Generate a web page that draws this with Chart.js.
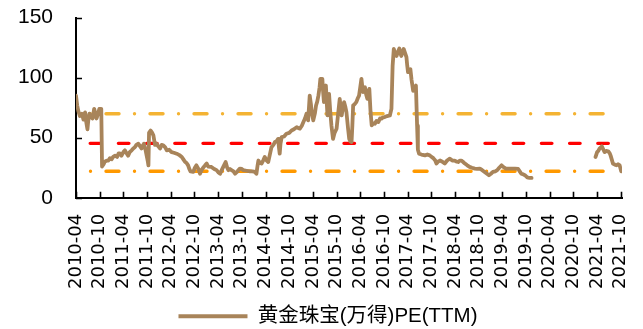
<!DOCTYPE html>
<html>
<head>
<meta charset="utf-8">
<script src="https://cdn.jsdelivr.net/npm/chart.js@4/dist/chart.umd.min.js"></script>
<style>
  html, body { margin: 0; padding: 0; background: #ffffff; }
  #wrap { width: 643px; height: 329px; }
</style>
</head>
<body>
<div id="wrap"><canvas id="c" width="643" height="329"></canvas></div>
<script>
// Axis labels, one every six months starting April 2010
const tickLabels = [
  '2010-04', '2010-10', '2011-04', '2011-10', '2012-04', '2012-10',
  '2013-04', '2013-10', '2014-04', '2014-10', '2015-04', '2015-10',
  '2016-04', '2016-10', '2017-04', '2017-10', '2018-04', '2018-10',
  '2019-04', '2019-10', '2020-04', '2020-10', '2021-04', '2021-10'
];

const seriesName = '黄金珠宝(万得)PE(TTM)';

// Observation time, in months since 2010-04-01
const months = [
  0, 0.3, 0.6, 1.0, 1.5, 1.9, 2.3, 2.6, 2.9, 3.1, 3.4, 3.8, 4.2, 4.6, 5.0, 5.2, 5.6, 5.9, 6.4,
  6.6, 7.0, 7.3, 7.8, 8.2, 8.6, 9.0, 9.4, 9.9, 10.4, 10.8, 11.1, 11.5, 12.0, 12.4, 12.8, 13.2,
  13.6, 14.1, 14.5, 14.9, 15.3, 15.8, 16.2, 16.6, 17.0, 17.2, 17.6, 17.9, 18.2, 18.35, 18.5,
  18.9, 19.3, 19.6, 20.0, 20.4, 20.8, 21.3, 21.7, 22.1, 22.6, 23.0, 23.6, 24.2, 24.8, 25.5,
  26.2, 26.8, 27.2, 27.6, 28.0, 28.4, 28.7, 29.0, 29.7, 30.1, 30.5, 31.0, 31.4, 31.8, 32.2,
  32.7, 33.1, 33.5, 34.3, 35.0, 35.6, 36.1, 36.5, 36.9, 37.3, 37.9, 38.3, 38.6, 39.0, 39.4,
  39.9, 40.3, 40.9, 41.5, 42.0, 42.4, 43.2, 44.1, 44.7, 45.3, 45.7, 46.0, 46.2, 46.6, 47.0,
  47.4, 47.8, 48.3, 48.7, 49.1, 49.5, 50.0, 50.4, 50.8, 51.2, 51.4, 51.6, 51.8, 52.1, 52.7,
  53.3, 54.0, 54.6, 55.2, 55.9, 56.3, 56.7, 57.2, 57.6, 58.0, 58.4, 58.8, 59.2, 59.5, 59.7,
  60.1, 60.5, 60.8, 61.1, 61.4, 61.7, 61.9, 62.4, 62.6, 62.8, 63.0, 63.3, 63.5, 63.7, 63.9,
  64.1, 64.4, 64.7, 65.1, 65.5, 66.0, 66.4, 66.8, 67.1, 67.3, 67.6, 67.9, 68.2, 68.5, 68.9,
  69.2, 69.5, 69.8, 70.0, 70.2, 70.6, 71.0, 71.4, 71.7, 72.0, 72.3, 72.5, 72.7, 73.0, 73.2,
  73.5, 73.8, 74.1, 74.3, 74.6, 74.9, 75.3, 75.7, 76.1, 76.6, 77.0, 77.4, 77.8, 78.2, 78.8,
  79.5, 79.9, 80.2, 80.5, 80.8, 81.2, 81.6, 81.9, 82.2, 82.4, 82.7, 83.0, 83.3, 83.7, 83.9,
  84.1, 84.4, 84.7, 85.0, 85.4, 85.8, 86.1, 86.4, 86.6, 86.9, 87.5, 88.4, 89.0, 89.6, 90.1,
  90.5, 91.0, 91.3, 91.7, 92.2, 92.8, 93.4, 94.0, 94.7, 95.3, 95.9, 96.4, 96.8, 97.2, 97.6,
  98.0, 98.5, 99.1, 99.7, 100.3, 101.0, 101.6, 102.3, 102.9, 103.5, 104.1, 104.6, 105.1,
  105.6, 106.2, 106.7, 107.2, 107.8, 108.3, 108.9, 109.6, 110.3, 111.2, 112.0, 112.4, 112.8,
  113.3, 113.7, 114.3, 114.9, 115.4,
  123,
  131.6, 132.0, 132.3, 132.6, 133.2, 133.6, 133.9, 134.3, 134.8, 135.2, 135.4, 135.7, 136.0,
  136.5, 136.9, 137.3, 137.7, 138.1
];

// PE (TTM); null marks the period without quotes
const pe = [
  85, 77, 72, 68, 70, 65, 71, 63, 57, 64, 70, 67, 66, 74, 69, 66, 70, 74, 74,
  26, 28, 30, 31, 31, 33, 32, 34, 35, 34, 37, 37, 35, 38, 39.5, 37, 35,
  38, 39.5, 41, 42, 44, 45, 43, 41, 44, 45, 40, 35, 30, 27, 54,
  56, 54, 52, 44, 45, 43, 41, 44, 43.7, 42, 39.5, 40, 38, 37.5, 36.7,
  35.5, 34, 32, 30, 29, 27, 24, 22, 21.6, 25, 27, 24, 20, 23, 25,
  27, 28.5, 26, 25.7, 24, 23, 21, 20, 23, 25.7, 29.8, 25, 23, 24, 23,
  22, 20, 22, 24.3, 24, 23, 22.5, 22, 22, 21.5, 20, 27, 31, 29, 28.5,
  31, 34, 31, 29.8, 36, 42, 44, 46.4, 47, 49, 42, 36.7, 45, 50.5, 51,
  53.3, 54, 56, 57, 58.8, 58, 57.5, 60, 63, 66, 70, 64.4, 85, 78, 71,
  64.4, 70, 76.8, 80, 85, 92, 99, 99, 88, 79.6, 86, 93.4, 80, 68.5, 78,
  86.5, 72, 60.2, 49, 54, 57.5, 70, 82.3, 74, 68.5, 75, 79.6, 76, 71.3, 58,
  49, 47, 46.4, 60, 76.8, 78, 79.6, 83, 85, 92, 99, 93, 88, 90, 92,
  86, 82.3, 88, 90.6, 72, 60.2, 62, 61.6, 64, 63, 66, 65.8, 67, 67.2, 68,
  68.5, 74, 110, 123.8, 120, 118, 122, 124.3, 120, 118, 121, 123.8, 121, 117, 110,
  104.5, 106, 107, 98, 89, 92, 93.4, 60, 40, 36.7, 36, 35.3, 36, 35.3, 34,
  33, 31, 28.5, 30, 31, 30, 28.5, 31, 32.6, 31, 31, 30, 29.8, 31, 31,
  30, 28.5, 27, 25.7, 25, 24.3, 24, 24.3, 23, 21.5, 20, 18.8, 20,
  21.5, 22, 23, 25, 27, 25.5, 24.3, 24.3, 24.3, 24.2, 24, 22, 20,
  19.5, 18.8, 17, 16.5, 16.5,
  null,
  34, 38, 39, 40.9, 42.8, 40, 38, 39, 38.7, 37, 35.3, 32, 28.5,
  27.5, 27, 28, 27, 22
];

// Reference levels: mean and one standard deviation either side
const peMean = 45.3;
const peUpper = 69.9;
const peLower = 22.1;
const refSpan = [0, 135];

const brown = '#A8845A';

const levelLine = (level) => refSpan.map(m => ({ x: m, y: level }));

// Small tick marks pointing into the plot area
const innerTicks = {
  id: 'innerTicks',
  afterDraw(chart) {
    const { ctx, chartArea, scales } = chart;
    ctx.save();
    ctx.strokeStyle = '#000';
    ctx.lineWidth = 1.6;
    ctx.beginPath();
    scales.x.ticks.forEach(t => {
      const px = Math.round(scales.x.getPixelForValue(t.value)) + 0.5;
      ctx.moveTo(px, chartArea.bottom);
      ctx.lineTo(px, chartArea.bottom - 6);
    });
    scales.y.ticks.forEach(t => {
      const py = Math.round(scales.y.getPixelForValue(t.value)) + 0.5;
      ctx.moveTo(chartArea.left, py);
      ctx.lineTo(chartArea.left + 6, py);
    });
    ctx.stroke();
    ctx.restore();
  }
};

// Nudge the legend a little to the right of the canvas centre
const legendNudge = {
  id: 'legendNudge',
  afterLayout(chart) {
    const lg = chart.legend;
    if (!lg) return;
    lg.left += 17;
    lg.right += 17;
  }
};

new Chart(document.getElementById('c'), {
  type: 'line',
  data: {
    datasets: [
      {
        label: seriesName,
        data: months.map((m, i) => ({ x: m, y: pe[i] })),
        borderColor: brown,
        backgroundColor: brown,
        borderWidth: 3.8,
        borderJoinStyle: 'round',
        borderCapStyle: 'round',
        pointRadius: 0,
        tension: 0,
        spanGaps: false,
        order: 0
      },
      {
        label: 'upper',
        data: levelLine(peUpper),
        borderColor: '#F4B333',
        borderWidth: 3.4,
        borderDash: [13, 15.5, 0.01, 15.5],
        borderDashOffset: 14,
        borderCapStyle: 'round',
        pointRadius: 0,
        order: 1
      },
      {
        label: 'mean',
        data: levelLine(peMean),
        borderColor: '#FF0000',
        borderWidth: 3.4,
        borderDash: [10.5, 17.7],
        borderDashOffset: 14,
        borderCapStyle: 'round',
        pointRadius: 0,
        order: 1
      },
      {
        label: 'lower',
        data: levelLine(peLower),
        borderColor: '#FF9900',
        borderWidth: 3.4,
        borderDash: [13, 15.5, 0.01, 15.5],
        borderDashOffset: 14,
        borderCapStyle: 'round',
        pointRadius: 0,
        order: 1
      }
    ]
  },
  options: {
    responsive: false,
    animation: false,
    devicePixelRatio: 1,
    layout: { padding: { left: 0, right: 21, top: 17.5, bottom: -7.5 } },
    plugins: {
      tooltip: { enabled: false },
      legend: {
        position: 'bottom',
        labels: {
          boxWidth: 69,
          boxHeight: 4,
          padding: 10,
          color: '#1a1a1a',
          font: { family: '"Liberation Sans", "Noto Sans CJK SC", sans-serif', size: 20.5 },
          generateLabels: () => [{
            text: seriesName,
            fillStyle: brown,
            strokeStyle: brown,
            lineWidth: 0,
            hidden: false,
            datasetIndex: 0
          }]
        }
      }
    },
    scales: {
      x: {
        type: 'linear',
        min: 0,
        max: 138.3,
        grid: { display: false, drawTicks: false },
        border: { display: true, color: '#000', width: 2 },
        afterBuildTicks: (scale) => {
          scale.ticks = tickLabels.map((_, i) => ({ value: i * 6 }));
        },
        afterFit: (scale) => {
          scale.height = 98.2;
          scale.paddingLeft = 0;
          scale.paddingRight = 0;
        },
        ticks: {
          autoSkip: false,
          maxRotation: 90,
          minRotation: 90,
          padding: 16,
          color: '#000',
          font: { family: '"DejaVu Sans", sans-serif', size: 18 },
          callback: (value) => tickLabels[Math.round(value / 6)]
        }
      },
      y: {
        min: 0,
        max: 150,
        grid: { display: false, drawTicks: false },
        border: { display: true, color: '#000', width: 2 },
        afterFit: (scale) => {
          scale.width = 76;
          scale.paddingTop = 0;
          scale.paddingBottom = 0;
        },
        ticks: {
          stepSize: 50,
          padding: 23,
          color: '#000',
          font: { family: '"Liberation Sans", Arial, sans-serif', size: 21 }
        }
      }
    }
  },
  plugins: [innerTicks, legendNudge]
});
</script>
</body>
</html>
